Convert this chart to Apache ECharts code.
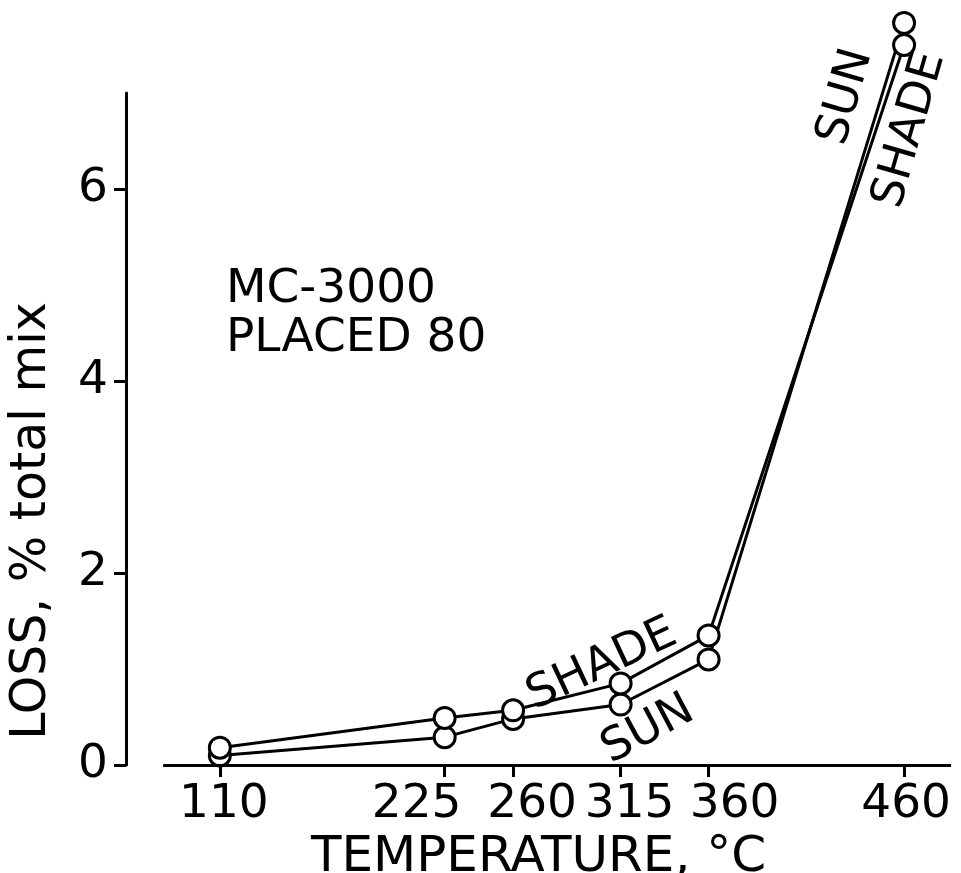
<!DOCTYPE html>
<html>
<head>
<meta charset="utf-8">
<script src="https://cdn.jsdelivr.net/npm/echarts@6/dist/echarts.min.js"></script>
<style>
	html,body{margin:0;padding:0;background:#fff;}
	#chart{width:961px;height:873px;}
</style>
</head>
<body>
<div id="chart"></div>
<script>
	// temperatures
	var temps = [110, 225, 260, 315, 360, 460];
	// loss, % total mix
	var sunLoss = [0.10, 0.29, 0.48, 0.63, 1.10, 7.73];
	var shadeLoss = [0.18, 0.49, 0.57, 0.85, 1.35, 7.50];
	var yTicks = [0, 2, 4, 6];
	// the printed tick labels sit a bit off their ticks so they don't collide
	var labelShift = {110: 4, 225: -28, 260: 19, 315: 9, 360: 26, 460: 2};

	var font = '"DejaVu Sans", sans-serif';

	function pairs(ys){
		var out = [];
		for(var i=0;i<temps.length;i++){
			out.push([temps[i], ys[i]]);
		}
		return out;
	}

	var rich = {};
	for(var i=0;i<temps.length;i++){
		var d = labelShift[temps[i]];
		rich['t'+temps[i]] = {
			fontFamily: font,
			fontSize: 47,
			color: '#000',
			padding: [0, d<0 ? -2*d : 0, 0, d>0 ? 2*d : 0]
		};
	}

	function txt(s, x, y, rot, size, align){
		return {
			type: 'text', x: x, y: y, rotation: rot*Math.PI/180,
			style: {
				text: s, font: size + 'px ' + font, fill: '#000',
				textAlign: align, textVerticalAlign: 'middle',
				align: align, verticalAlign: 'middle'
			}
		};
	}

	var chart = echarts.init(document.getElementById('chart'));
	var option = {
		backgroundColor: '#fff',
		animation: false,
		grid: {
			left: 126,
			right: 10,
			top: 93,
			bottom: 108,
			containLabel: false,
			outerBoundsMode: 'none'
		},
		xAxis: {
			type: 'value',
			min: 62,
			max: 484,
			splitLine: {show: false},
			axisLine: {show: false},
			axisTick: {
				show: true,
				customValues: temps,
				length: 12,
				lineStyle: {color: '#000', width: 3}
			},
			axisLabel: {
				customValues: temps,
				margin: 16,
				formatter: function(v){ return '{t' + v + '|' + v + '}'; },
				rich: rich
			},
			name: 'TEMPERATURE, °C',
			nameLocation: 'middle',
			nameGap: 50,
			nameTextStyle: {fontFamily: font, fontSize: 50, color: '#000'}
		},
		yAxis: {
			type: 'value',
			min: 0,
			max: 7,
			splitLine: {show: false},
			axisLine: {show: true, lineStyle: {color: '#000', width: 3}},
			axisTick: {
				show: true,
				customValues: yTicks,
				length: 12,
				lineStyle: {color: '#000', width: 3}
			},
			axisLabel: {
				customValues: yTicks,
				margin: 18,
				fontFamily: font,
				fontSize: 47,
				color: '#000'
			}
		},
		graphic: [
			txt('LOSS, % total mix', 32, 521, 90, 49, 'center'),
			txt('MC-3000', 226, 290, 0, 47, 'left'),
			txt('PLACED 80', 226, 339, 0, 47, 'left'),
			txt('SHADE', 602, 665, 25, 46, 'center'),
			txt('SUN', 648, 730, 28, 46, 'center'),
			txt('SUN', 846, 97, 74, 46, 'center'),
			txt('SHADE', 910, 130, 74, 46, 'center')
		],
		series: [
			{
				name: 'SUN',
				type: 'line',
				data: pairs(sunLoss),
				clip: false,
				symbol: 'circle',
				symbolSize: 21,
				itemStyle: {color: '#fff', borderColor: '#000', borderWidth: 3},
				lineStyle: {color: '#000', width: 3},
				z: 2,
				markLine: {
					silent: true,
					symbol: 'none',
					label: {show: false},
					lineStyle: {color: '#000', width: 3, type: 'solid'},
					data: [[{coord: [81, 0]}, {coord: [484, 0]}]]
				}
			},
			{
				name: 'SHADE',
				type: 'line',
				data: pairs(shadeLoss),
				clip: false,
				symbol: 'circle',
				symbolSize: 21,
				itemStyle: {color: '#fff', borderColor: '#000', borderWidth: 3},
				lineStyle: {color: '#000', width: 3},
				z: 3
			}
		]
	};
	chart.setOption(option);
</script>
</body>
</html>
